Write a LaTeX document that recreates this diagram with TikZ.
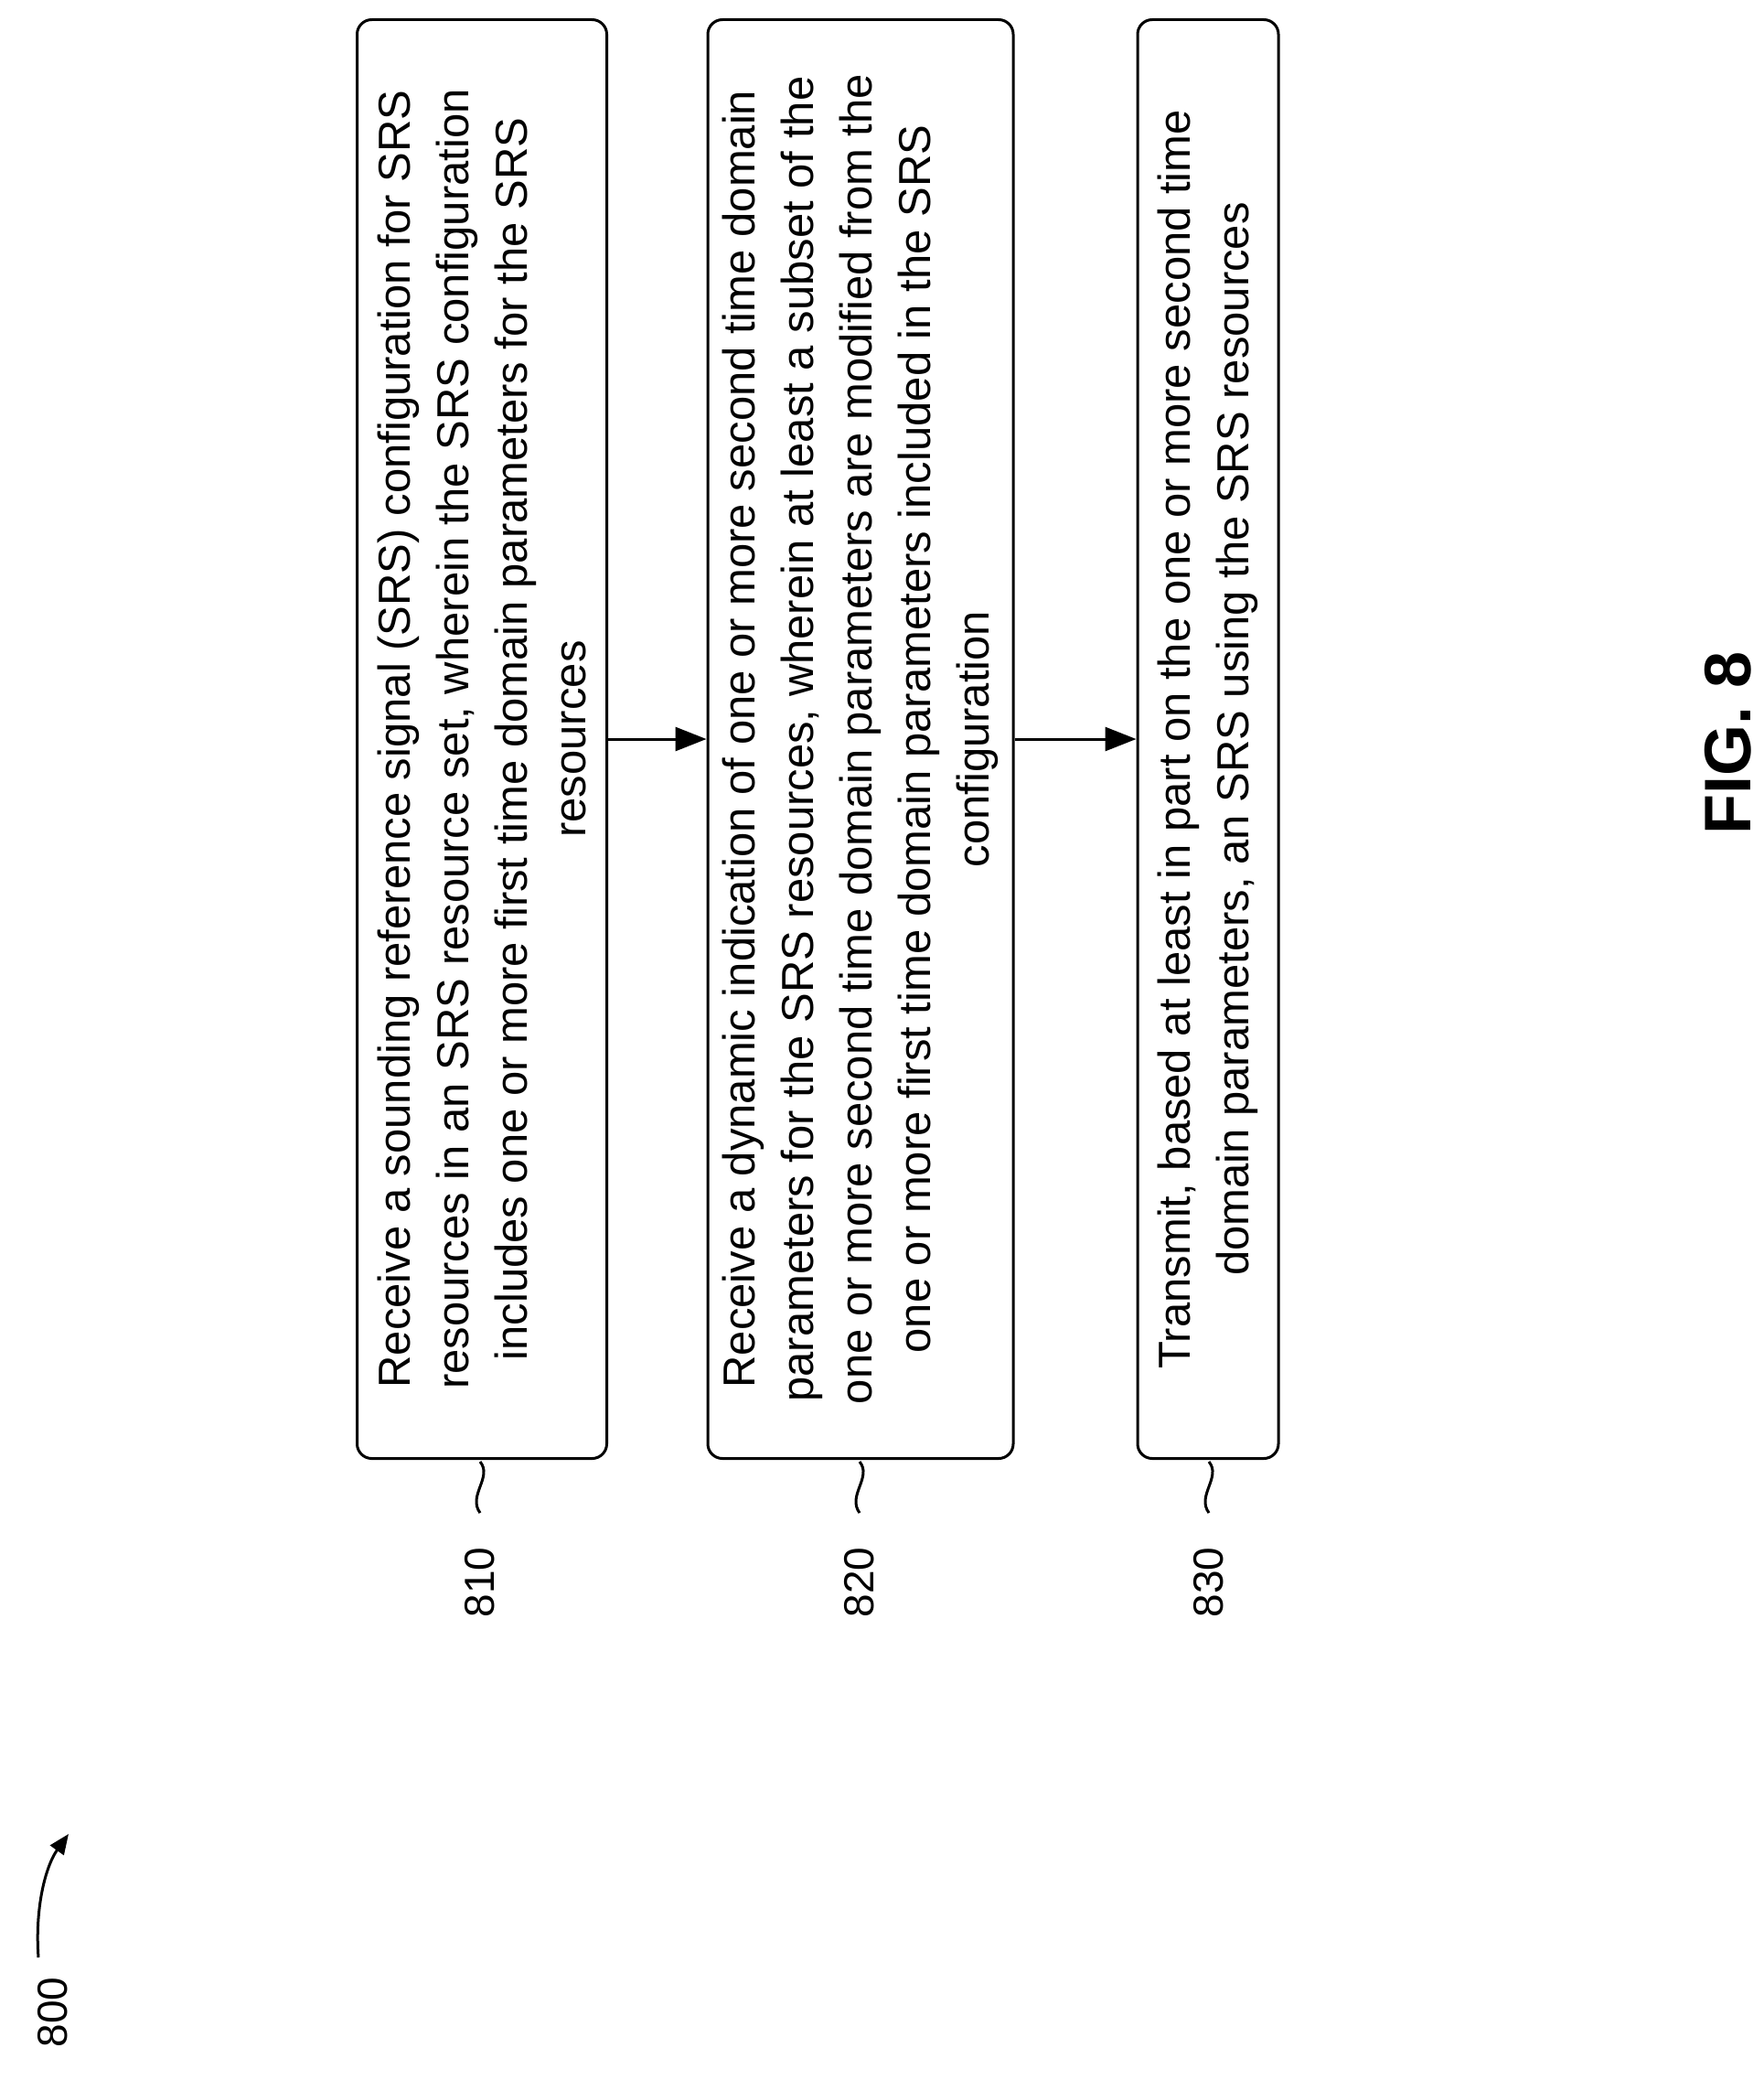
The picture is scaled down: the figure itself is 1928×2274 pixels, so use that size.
\documentclass[tikz,border=0pt]{standalone}
\usepackage{fontspec}
\setmainfont{Liberation Sans}
\usetikzlibrary{arrows.meta}
\begin{document}
\begin{tikzpicture}[x=1pt,y=1pt,
  stepbox/.style={draw,line width=3pt,rounded corners=16pt,rotate=90,align=center,font=\fontsize{49}{64}\selectfont,minimum width=1573pt,inner sep=0pt},
  lbl/.style={rotate=90,font=\fontsize{46}{50}\selectfont},
  conn/.style={line width=3pt,-{Triangle[length=34pt,width=26pt]}},
  sq/.style={line width=3pt}]
\useasboundingbox (0,0) rectangle (1928,-2274);
\node[stepbox,minimum height=273pt] (b1) at (527,-808) {Receive a sounding reference signal (SRS) configuration for SRS\\resources in an SRS resource set, wherein the SRS configuration\\includes one or more first time domain parameters for the SRS\\resources};
\node[stepbox,minimum height=334pt] (b2) at (941,-808) {Receive a dynamic indication of one or more second time domain\\parameters for the SRS resources, wherein at least a subset of the\\one or more second time domain parameters are modified from the\\one or more first time domain parameters included in the SRS\\configuration};
\node[stepbox,minimum height=154pt] (b3) at (1321,-808) {Transmit, based at least in part on the one or more second time\\domain parameters, an SRS using the SRS resources};
\draw[conn] (b1.south) -- (b2.north);
\draw[conn] (b2.south) -- (b3.north);
\foreach \n/\x/\t in {1/525/810,2/940/820,3/1322/830}{
  \draw[sq] (\x,-1598) .. controls (\x+14,-1615) and (\x-14,-1635) .. (\x,-1654);
  \node[lbl] (l\n) at (\x,-1730) {\t};
}
\node[lbl] (l800) at (58,-2200) {800};
\coordinate (a0) at (42,-2140);
\coordinate (a1) at (75,-2005);
\draw[line width=3pt,-{Triangle[length=22pt,width=18pt]}] (a0) .. controls (38,-2085) and (50,-2040) .. (a1);
\node[rotate=90,font=\bfseries\fontsize{72}{80}\selectfont] (fig) at (1890,-812) {FIG. 8};
\end{tikzpicture}
\end{document}
